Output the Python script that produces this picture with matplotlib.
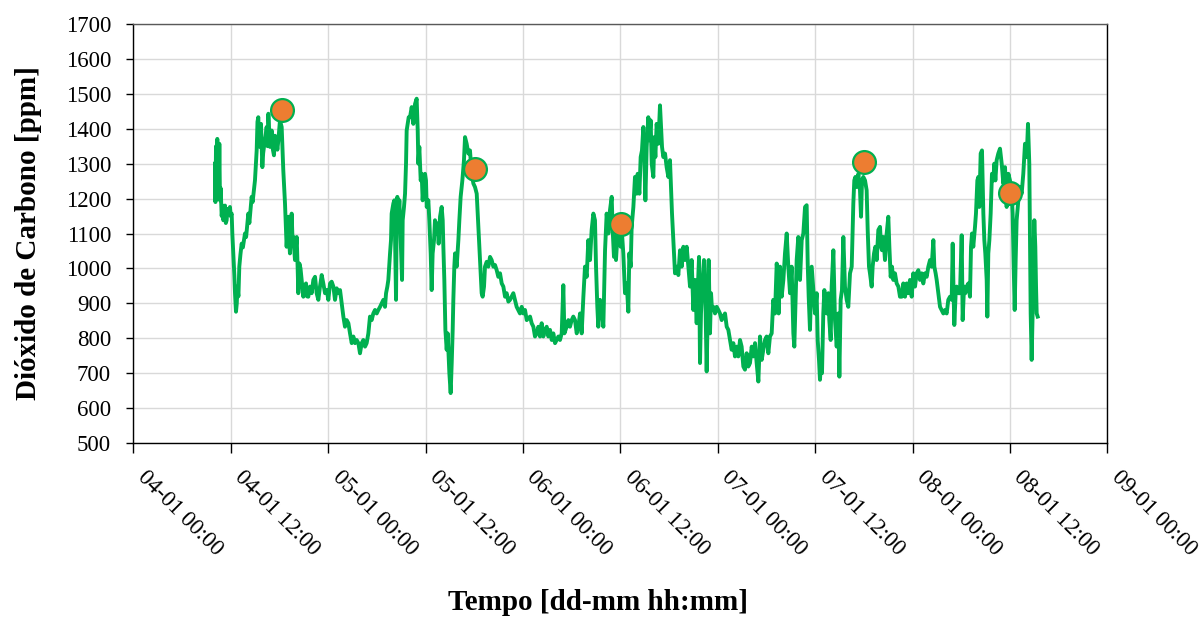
import matplotlib
matplotlib.use("Agg")
import matplotlib.pyplot as plt

# hours since 04-01 00:00 and CO2 concentration [ppm]
HOURS = [
    10.06, 10.12, 10.19, 10.27, 10.35, 10.42, 10.48, 10.55, 10.60, 10.68, 10.76, 10.89, 11.00, 11.09,
    11.20, 11.30, 11.40, 11.50, 11.60, 11.71, 11.91, 12.00, 12.12, 12.20, 12.32, 12.45, 12.53, 12.65,
    12.75, 12.82, 12.95, 13.06, 13.20, 13.35, 13.50, 13.76, 13.90, 14.17, 14.30, 14.58, 14.70, 14.99,
    15.10, 15.20, 15.30, 15.40, 15.50, 15.61, 15.73, 15.90, 16.00, 16.10, 16.30, 16.43, 16.55, 16.64,
    16.75, 16.84, 17.05, 17.20, 17.33, 17.45, 17.58, 17.75, 17.87, 18.07, 18.28, 18.48, 18.69, 18.80,
    18.89, 19.10, 19.20, 19.30, 19.51, 19.62, 19.72, 19.92, 20.13, 20.25, 20.33, 20.46, 20.60, 20.74,
    20.95, 21.10, 21.28, 21.40, 21.56, 21.77,
    21.98, 22.18, 22.39, 22.59, 22.80, 23.00, 23.21, 23.41, 23.62, 23.83, 24.03, 24.24, 24.44, 24.65,
    24.85, 25.06, 25.26, 25.47, 25.67, 25.88, 26.08, 26.29, 26.50, 26.70, 26.91, 27.11, 27.32, 27.52,
    27.73, 27.93, 28.14, 28.34, 28.55, 28.75, 28.96, 29.16, 29.37, 29.57, 29.78, 29.99, 30.19, 30.40,
    30.60, 30.81, 31.01, 31.14, 31.30, 31.42, 31.63, 31.75, 31.83, 32.04, 32.16, 32.24, 32.37, 32.45,
    32.53, 32.65, 32.78, 32.86, 32.98, 33.11, 33.19, 33.35, 33.48, 33.60, 33.68, 33.81, 33.93,
    34.09, 34.30, 34.50, 34.71, 34.91, 35.04, 35.12, 35.24, 35.41, 35.53, 35.65, 35.82, 35.94, 36.06,
    36.15, 36.35, 36.47, 36.64, 36.76, 36.88, 37.05, 37.17, 37.38, 37.50, 37.62, 37.79, 37.99, 38.12,
    38.20, 38.32, 38.45, 38.61, 38.73, 38.94, 39.10, 39.23, 39.35, 39.43, 39.55, 39.64, 39.84, 40.05,
    40.17, 40.33, 40.54, 40.74, 40.87, 41.07, 41.28, 41.48, 41.69, 41.90, 42.10, 42.31, 42.43, 42.55,
    42.72, 42.92, 43.04, 43.21, 43.33, 43.54, 43.74, 43.95, 44.15, 44.36, 44.56, 44.77, 44.97, 45.18,
    45.39, 45.59, 45.80, 46.00, 46.21, 46.41,
    46.82, 47.23, 47.64, 47.85, 48.05, 48.26, 48.47, 48.88, 49.08, 49.29, 49.49, 49.70, 49.90, 50.11,
    50.31, 50.52, 50.72, 50.93, 51.13, 51.34, 51.55, 51.75, 51.96, 52.16, 52.37, 52.57, 52.78, 52.98,
    53.11, 53.39, 53.60, 53.80, 54.01, 54.21, 54.42, 54.63, 54.83, 55.04, 55.24, 55.45, 55.65, 55.86,
    56.06, 56.27, 56.47, 56.68, 56.88, 57.01, 57.17, 57.29, 57.50,
    57.71, 57.91, 58.12, 58.32, 58.53, 58.73, 58.94, 59.06, 59.22, 59.35, 59.47, 59.64, 59.88, 60.05,
    60.21, 60.37, 60.58, 60.79, 60.99, 61.11, 61.28, 61.40, 61.61, 61.81, 62.02, 62.14, 62.35, 62.51,
    62.67, 62.84, 62.96, 63.09, 63.25, 63.45, 63.58, 63.74, 63.87, 64.07, 64.19, 64.32, 64.48, 64.69,
    64.89, 65.02, 65.14, 65.30, 65.51, 65.71, 65.92, 66.12, 66.25, 66.37, 66.53, 66.74, 66.95, 67.15,
    67.36, 67.56, 67.77, 67.97, 68.18, 68.38, 68.59, 68.79, 69.00, 69.20, 69.41, 69.53, 69.70, 69.82,
    69.94, 70.15, 70.31, 70.48, 70.64, 70.77, 70.89, 71.05,
    71.18, 71.30, 71.46, 71.67, 71.87, 72.08, 72.28, 72.49, 72.69, 72.90, 73.11, 73.31, 73.52, 73.72,
    73.93, 74.13, 74.34, 74.54, 74.75, 74.95, 75.16, 75.36, 75.57, 75.77, 75.98, 76.19, 76.39, 76.60,
    76.80, 77.01, 77.21, 77.42, 77.62, 77.83, 78.03, 78.24, 78.44, 78.65, 78.85, 79.06, 79.27, 79.39,
    79.51, 79.68, 79.88, 80.09, 80.29, 80.50, 80.70, 80.91, 81.11, 81.32, 81.44, 81.61, 81.73, 81.93,
    82.14, 82.35, 82.55, 82.76, 82.96, 83.09, 83.21, 83.37,
    83.58, 83.70, 83.86, 83.99, 84.19, 84.32, 84.48, 84.60, 84.73, 84.85, 85.01, 85.14, 85.30, 85.43,
    85.63, 85.75, 85.92, 86.04, 86.25, 86.45, 86.66, 86.86, 86.99, 87.15, 87.31, 87.48, 87.68, 87.89,
    88.09, 88.30, 88.51, 88.63, 88.71, 88.83, 88.96, 89.12, 89.33, 89.53, 89.66, 89.78, 89.94, 90.15,
    90.35, 90.48, 90.64, 90.76, 90.97, 91.09, 91.26, 91.42, 91.59, 91.79, 92.00, 92.12, 92.24, 92.41,
    92.61, 92.82, 93.02, 93.15, 93.31, 93.47, 93.64, 93.84, 94.05, 94.26, 94.46,
    94.67, 94.87, 95.08, 95.28, 95.49, 95.69, 95.90, 96.10, 96.31, 96.51, 96.72, 96.92, 97.13, 97.33,
    97.54, 97.75, 97.95, 98.16, 98.36, 98.57, 98.69, 98.85, 98.98, 99.18, 99.39, 99.59, 99.80, 100.00,
    100.21, 100.41, 100.62, 100.83, 100.95, 101.03, 101.15, 101.32, 101.44, 101.65, 101.85, 102.06,
    102.18, 102.35, 102.51, 102.67, 102.88, 103.08, 103.21, 103.33, 103.49, 103.70, 103.82, 103.99,
    104.11, 104.23, 104.40, 104.56, 104.73, 104.85, 104.97, 105.14, 105.22, 105.34, 105.47, 105.63,
    105.79, 105.96, 106.08, 106.21, 106.37, 106.57, 106.78, 106.99, 107.19, 107.40, 107.60, 107.81,
    108.01, 108.22, 108.34, 108.46, 108.59, 108.71, 108.83, 109.04, 109.24, 109.45, 109.65, 109.86,
    110.07, 110.23, 110.39, 110.48, 110.56, 110.68, 110.80, 110.89, 111.01, 111.13, 111.22, 111.30,
    111.42,
]
CO2 = [
    1300, 1190, 1350, 1230, 1371, 1200, 1340, 1250, 1357, 1195, 1230, 1150, 1180, 1138,
    1170, 1180, 1130, 1138, 1170, 1160, 1176, 1150, 1157, 1100, 1043, 980, 929, 876,
    900, 948, 920, 1005, 1040, 1071, 1060, 1100, 1090, 1157, 1130, 1205, 1190, 1252,
    1300, 1338, 1420, 1433, 1360, 1348, 1414, 1290, 1330, 1348, 1380, 1405, 1350, 1443,
    1390, 1348, 1395, 1340, 1324, 1380, 1376, 1340, 1367, 1424, 1405, 1281, 1186, 1120,
    1062, 1148, 1080, 1043, 1157, 1080, 1090, 1024, 1090, 1000, 929, 1014, 1000, 967,
    919, 950, 957, 920, 919, 948,
    929, 967, 976, 929, 910, 948, 981, 957, 929, 938, 910, 957, 962, 948,
    910, 943, 929, 938, 900, 862, 833, 852, 843, 814, 786, 805, 786, 795,
    786, 757, 786, 795, 776, 786, 814, 862, 852, 871, 881, 871, 881, 890,
    900, 910, 890, 929, 948, 967, 1043, 1081, 1157, 1186, 1195, 1100, 910, 1138,
    1205, 1138, 1195, 1138, 1062, 967, 1138, 1176, 1214, 1300, 1395, 1414, 1433,
    1433, 1462, 1414, 1471, 1486, 1395, 1300, 1348, 1252, 1271, 1195, 1262, 1271, 1252,
    1176, 1195, 1138, 1043, 938, 1043, 1081, 1138, 1100, 1129, 1071, 1148, 1176, 1138,
    1062, 967, 824, 767, 814, 700, 643, 729, 824, 910, 1005, 1043, 1005, 1081,
    1138, 1205, 1252, 1310, 1376, 1357, 1329, 1338, 1271, 1243, 1233, 1214, 1157, 1100,
    1024, 929, 919, 948, 1005, 1019, 1005, 1033, 1024, 1005, 1010, 995, 976, 986,
    957, 948, 919, 929, 905, 910,
    929, 890, 871, 890, 871, 881, 852, 862, 843, 833, 805, 814, 833, 805,
    843, 805, 824, 833, 805, 824, 795, 814, 786, 795, 805, 795, 814, 952,
    814, 833, 852, 833, 852, 862, 852, 814, 833, 871, 814, 919, 1005, 976,
    1081, 1024, 1110, 1157, 1138, 1005, 890, 833, 910,
    881, 833, 1052, 1157, 1100, 1167, 1205, 1110, 1033, 1090, 1024, 1090, 1129, 1062,
    1100, 1043, 929, 957, 876, 1043, 1005, 1119, 1176, 1262, 1214, 1271, 1214, 1319,
    1338, 1405, 1319, 1195, 1348, 1433, 1367, 1424, 1300, 1262, 1376, 1319, 1414, 1357,
    1467, 1405, 1348, 1319, 1329, 1290, 1262, 1310, 1233, 1157, 1081, 986, 1005, 981,
    1052, 1005, 1062, 1024, 1062, 1005, 948, 1024, 881, 967, 843, 929, 1033, 729,
    871, 967, 1024, 919, 705, 871, 1024, 814,
    929, 881, 890, 871, 890, 881, 871, 852, 862, 871, 833, 824, 795, 767,
    786, 748, 776, 748, 795, 776, 719, 710, 757, 719, 729, 776, 748, 786,
    729, 676, 805, 738, 767, 795, 805, 757, 805, 814, 910, 871, 1014, 976,
    871, 1005, 919, 967, 1043, 1100, 1005, 929, 1005, 814, 776, 919, 1024, 1090,
    967, 1081, 1100, 1176, 1181, 1014, 919, 824,
    1005, 967, 919, 871, 929, 795, 738, 681, 729, 700, 871, 938, 890, 871,
    929, 852, 795, 948, 1052, 852, 776, 871, 690, 910, 938, 1090, 948, 910,
    890, 986, 1005, 1110, 1186, 1252, 1262, 1233, 1271, 1224, 1148, 1252, 1262, 1252,
    1224, 1110, 1005, 986, 948, 1005, 1043, 1062, 1024, 1110, 1119, 1062, 1052, 1090,
    1024, 1100, 1148, 1062, 976, 1005, 967, 986, 957, 948, 919,
    919, 957, 919, 957, 929, 967, 919, 986, 948, 986, 995, 967, 986, 957,
    986, 976, 1005, 1024, 1005, 1081, 1005, 986, 967, 929, 890, 881, 871, 881,
    871, 910, 919, 910, 1071, 967, 838, 929, 948, 929, 929, 1095,
    852, 948, 929, 948, 957, 919, 1062, 1100, 1062, 1119, 1157, 1252,
    1262, 1176, 1329, 1338, 1157, 1081, 1043, 967, 862, 1043, 1081, 1157,
    1271, 1252, 1300, 1252, 1310, 1329, 1343, 1300, 1243, 1290, 1176, 1271,
    1252, 1214, 1157, 1014, 881, 1024, 1138, 1195, 1233, 1214, 1271, 1357,
    1319, 1414, 1300, 1062, 871, 738, 871, 1024, 1138, 1062, 948, 871,
    862,
]

# highlighted points
MARK_HOURS = [18.3, 42.1, 60.1, 90.0, 108.0]
MARK_CO2 = [1454, 1285, 1126, 1305, 1216]

TICK_HOURS = list(range(0, 121, 12))
TICK_LABELS = [
    "04-01 00:00", "04-01 12:00", "05-01 00:00", "05-01 12:00", "06-01 00:00",
    "06-01 12:00", "07-01 00:00", "07-01 12:00", "08-01 00:00", "08-01 12:00",
    "09-01 00:00",
]
Y_TICKS = list(range(500, 1701, 100))

GREEN = "#00B050"
ORANGE = "#ED7D31"
SERIF = "Liberation Serif"

fig = plt.figure(figsize=(11.99, 6.18), dpi=100)
ax = fig.add_axes([133.3 / 1199, 1 - 443 / 618, (1107.3 - 133.3) / 1199, 419 / 618])

ax.plot(HOURS, CO2, color=GREEN, linewidth=2.8, solid_joinstyle="round", zorder=3)
ax.scatter(MARK_HOURS, MARK_CO2, s=270, color=ORANGE, edgecolors=GREEN,
           linewidths=1.6, zorder=4)

ax.set_xlim(0, 120)
ax.set_ylim(500, 1700)
ax.set_xticks(TICK_HOURS)
ax.set_xticklabels(TICK_LABELS, rotation=-45, ha="left", va="top",
                   fontsize=16.5, family=SERIF)
ax.set_yticks(Y_TICKS)
ax.set_yticklabels([str(v) for v in Y_TICKS], fontsize=16.5, family=SERIF)
ax.tick_params(axis="x", direction="out", length=7, width=1, pad=10)
ax.tick_params(axis="y", direction="out", length=5, width=1, pad=11)

ax.grid(True, color="#D9D9D9", linewidth=1.0)
ax.set_axisbelow(True)
for side in ("left", "bottom", "right"):
    ax.spines[side].set_color("black")
    ax.spines[side].set_linewidth(1.0)
ax.spines["top"].set_color("#595959")
ax.spines["top"].set_linewidth(1.0)

fig.text(28.5 / 1199, 1 - 233 / 618, "Dióxido de Carbono [ppm]", rotation=90,
         ha="center", va="center", fontsize=21, fontweight="bold", family=SERIF)
fig.text(598 / 1199, 1 - 603 / 618, "Tempo [dd-mm hh:mm]",
         ha="center", va="center", fontsize=21, fontweight="bold", family=SERIF)

fig.savefig("out.png", dpi=100)
